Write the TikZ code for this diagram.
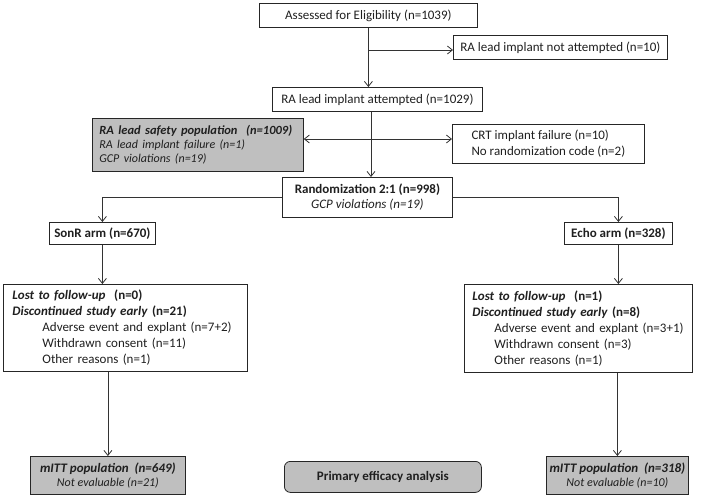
\documentclass[tikz,border=0pt]{standalone}
\usepackage{fontspec}
\setmainfont{Carlito}
\usetikzlibrary{arrows.meta}
\begin{document}
\begin{tikzpicture}[x=1pt,y=-1pt,
  box/.style={draw=black!85, line width=0.8pt, inner sep=0pt, anchor=north west,
    font=\fontsize{13}{16}\selectfont, text=black!88},
  graybox/.style={box, fill=black!25},
  arr/.style={draw=black!80, line width=0.8pt, -{Straight Barb[length=5pt,width=8pt]}},
  darr/.style={draw=black!80, line width=0.8pt, {Straight Barb[length=5pt,width=8pt]}-{Straight Barb[length=5pt,width=8pt]}}]
\useasboundingbox (0,0) rectangle (705,499);

\node[box, minimum width=218pt, minimum height=24pt] (elig) at (259,3) {Assessed for Eligibility (n=1039)};
\node[box, minimum width=214pt, minimum height=24pt] (notatt) at (453,35) {RA lead implant not attempted (n=10)};
\node[box, minimum width=210pt, minimum height=24pt] (att) at (272,87) {RA lead implant attempted (n=1029)};

\node[graybox, minimum height=53pt, text width=197pt, inner xsep=7pt, align=left,
  font=\fontsize{13}{14}\selectfont] (safety) at (92,118)
  {\mbox{\fontsize{12.5}{14}\selectfont\textbf{\textit{RA lead safety population\ \ (n=1009)}}}\\
   \mbox{\fontsize{12}{14}\selectfont\textit{RA lead implant failure (n=1)}}\\
   \mbox{\fontsize{12}{14}\selectfont\textit{GCP violations (n=19)}}};

\node[box, minimum width=192pt, minimum height=39pt, align=left] (crt) at (452,124)
  {CRT implant failure (n=10)\\No randomization code (n=2)};

\node[box, minimum width=170pt, minimum height=40pt, align=center,
  font=\fontsize{13}{15}\selectfont] (rand) at (282,177)
  {\textbf{Randomization 2:1 (n=998)}\\\textit{GCP violations (n=19)}};

\node[box, minimum width=106pt, minimum height=22pt] (sonr) at (49,222) {\textbf{SonR arm (n=670)}};
\node[box, minimum width=108pt, minimum height=22pt] (echo) at (564,222) {\textbf{Echo arm (n=328)}};

\node[box, text width=226pt, inner xsep=9pt, minimum height=87pt, align=left] (lostL) at (3,284)
  {\mbox{\textbf{\textit{Lost to follow-up}\ \ (n=0)}}\\
   \mbox{\textbf{\textit{Discontinued study early} (n=21)}}\\
   \mbox{\hspace*{30pt}Adverse event and explant (n=7+2)}\\
   \mbox{\hspace*{30pt}Withdrawn consent (n=11)}\\
   \mbox{\hspace*{30pt}Other reasons (n=1)}};

\node[box, text width=212pt, inner xsep=8pt, minimum height=88pt, align=left] (lostR) at (464,284)
  {\mbox{\textbf{\textit{Lost to follow-up}\ \ (n=1)}}\\
   \mbox{\textbf{\textit{Discontinued study early} (n=8)}}\\
   \mbox{\hspace*{22pt}Adverse event and explant (n=3+1)}\\
   \mbox{\hspace*{22pt}Withdrawn consent (n=3)}\\
   \mbox{\hspace*{22pt}Other reasons (n=1)}};

\node[graybox, minimum width=155pt, minimum height=38pt, align=center,
  font=\fontsize{13}{14}\selectfont] (mittL) at (30,456)
  {\textbf{\textit{mITT population\ \ (n=649)}}\\{\fontsize{12}{14}\selectfont\textit{Not evaluable (n=21)}}};
\node[graybox, minimum width=142pt, minimum height=38pt, align=center,
  font=\fontsize{13}{14}\selectfont] (mittR) at (546,456)
  {\textbf{\textit{mITT population\ \ (n=318)}}\\{\fontsize{12}{14}\selectfont\textit{Not evaluable (n=10)}}};
\node[graybox, rounded corners=6pt, minimum width=197pt, minimum height=31pt] (prim) at (284,461)
  {\textbf{Primary efficacy analysis}};

% connectors
\draw[arr] (elig.south) -- (elig.south |- att.north);
\coordinate (br1) at (368,50);
\draw[arr] (br1) -- (notatt.west |- br1);
\coordinate (c2) at (371,0);
\draw[arr] (att.south -| c2) -- (rand.north -| c2);
\coordinate (lvl) at (0,139);
\draw[darr] (safety.east |- lvl) -- (crt.west |- lvl);
\draw[arr] (rand.west) -| (sonr.north);
\draw[arr] (rand.east) -| (echo.north);
\draw[arr] (sonr.south) -- (sonr.south |- lostL.north);
\draw[arr] (echo.south) -- (echo.south |- lostR.north);
\draw[arr] (mittL.north |- lostL.south) -- (mittL.north);
\draw[arr] (mittR.north |- lostR.south) -- (mittR.north);
\end{tikzpicture}
\end{document}
